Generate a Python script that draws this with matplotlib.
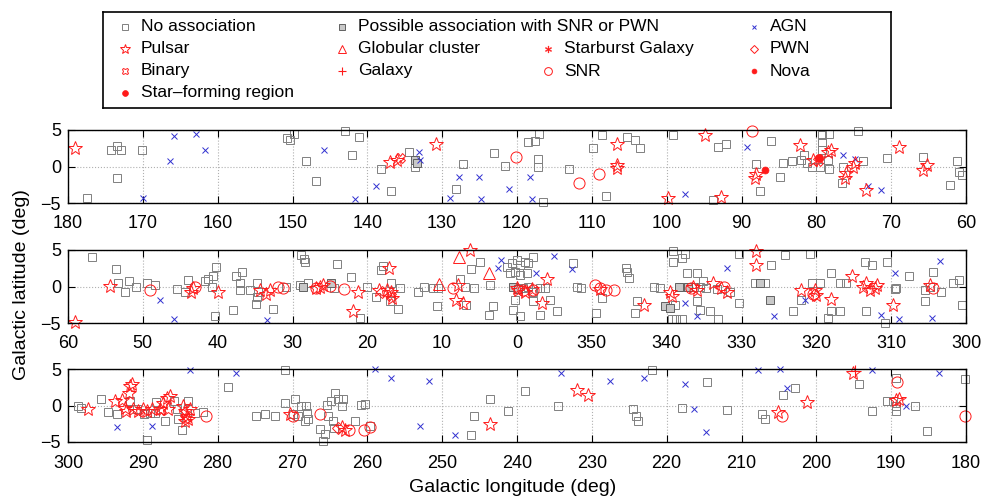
import matplotlib
matplotlib.use("Agg")
import matplotlib.pyplot as plt
from matplotlib.ticker import FuncFormatter, MultipleLocator
import numpy as np

plt.rcParams['font.family'] = ['Liberation Sans', 'DejaVu Sans']

# source positions, galactic (lon, lat) in degrees
no_assoc = [
    (174.2, 2.3), (173.5, 2.8), (172.9, 2.3), (170.1, 2.2), (173.5, -1.6), (177.5, -4.3),
    (150.7, 3.9), (150.4, 3.6), (149.8, 4.5), (148.2, 0.8), (146.8, -2.0), (143.0, 4.9),
    (141.1, 4.1), (142.1, 1.6), (138.2, -0.3), (136.8, -3.4), (134.4, 2.0), (133.6, -0.1),
    (128.2, -3.1), (127.2, 0.3), (123.1, 1.8), (121.6, 0.1), (118.5, 3.4), (117.6, 3.5),
    (117.0, 4.5), (117.2, 1.0), (117.2, 0.0), (116.5, -4.9), (113.1, -0.4), (109.9, 2.6),
    (108.6, 4.3), (108.1, -4.0), (105.3, 4.0), (104.2, 3.6), (103.6, 2.6), (99.1, 4.3),
    (93.1, 2.7), (92.1, 3.1), (93.8, -4.6), (88.0, 0.4), (87.5, -3.4), (86.0, 3.5),
    (84.9, -1.4), (84.5, 0.5), (83.3, 0.8), (82.0, 0.9), (79.3, 4.3), (78.3, 4.5),
    (79.2, 3.4), (81.7, 1.6), (81.3, 0.5), (80.6, 0.0), (79.5, 0.0), (79.3, 2.3),
    (78.4, 0.9), (78.3, -0.4), (76.6, -2.3), (74.4, 4.9), (76.4, 0.0), (73.7, 0.7),
    (70.6, 1.1), (65.7, 1.3), (62.2, -2.6), (61.2, 0.7), (61.0, -0.8), (60.6, -1.1),
    (56.8, 4.1), (53.6, 2.4), (53.3, 0.5), (52.4, -0.8), (51.9, 0.7), (50.9, -0.1),
    (49.5, 0.5), (48.4, 0.2), (45.5, -0.3), (44.4, -0.7), (44.0, 0.9), (41.7, 0.7),
    (41.3, 1.0), (40.6, 1.5), (40.2, 2.7), (40.4, -4.0), (40.8, 0.0), (37.5, 1.5),
    (36.7, 2.0), (37.9, -3.2), (37.0, -0.5), (37.0, 0.5), (35.7, -0.5), (34.8, 0.5),
    (34.6, -0.8), (34.9, -2.4), (34.8, -1.4), (32.6, -3.1), (30.9, -0.1), (29.0, 0.2),
    (27.9, 0.5), (28.8, 4.3), (28.5, 3.7), (28.3, 3.4), (24.1, 3.1), (24.5, -0.2),
    (21.0, -4.3), (22.2, 1.3), (20.1, 0.0), (18.8, -1.4), (18.2, 2.3), (17.9, 2.8),
    (16.9, 0.5), (17.0, -2.0), (15.9, -3.1), (15.6, -0.2), (13.2, -0.7), (12.4, -0.1),
    (11.2, -0.2), (10.5, -0.2), (10.7, -2.7), (7.6, 1.0), (7.0, 0.0), (5.7, -0.2),
    (6.8, -2.5), (6.2, 2.4), (5.0, 3.3), (3.6, 0.2), (3.2, -2.7), (3.8, -3.9),
    (1.4, 2.7), (0.7, 3.2), (0.0, 3.6), (359.6, 3.0), (358.9, 3.4), (358.5, 3.2),
    (357.8, 4.1), (0.9, 1.8), (0.3, 2.0), (359.6, 1.6), (358.7, 1.8), (359.2, -0.2),
    (358.5, 0.0), (357.8, -0.7), (356.9, -0.2), (356.3, -0.2), (0.3, -1.8), (0.5, -3.2),
    (359.6, -4.1), (357.8, -2.0), (356.9, -3.9), (355.6, -1.8), (354.7, -3.4), (352.5, 3.2),
    (352.0, -0.1), (351.4, -0.2), (348.6, -1.6), (349.4, -3.6), (345.4, 2.5), (345.3, 2.0),
    (345.1, 1.1), (344.0, -2.0), (344.2, -3.6), (341.7, 0.0), (340.9, -0.2), (338.9, -2.5),
    (339.3, -4.5), (338.7, -4.5), (338.0, -4.5), (339.1, 4.8), (339.1, 3.4), (338.0, 3.9),
    (337.6, 4.5), (337.8, 0.0), (336.4, 0.0), (335.5, 0.0), (337.3, 1.8), (336.0, 1.8),
    (336.0, -2.0), (335.5, -3.2), (334.2, -3.4), (333.1, -4.5), (335.1, 0.7), (334.7, -0.2),
    (333.3, -0.4), (331.5, -0.7), (330.4, -2.3), (330.4, 4.5), (326.0, 3.0), (328.2, 0.5),
    (326.9, 0.5), (324.2, 4.3), (323.1, -3.3), (320.9, 4.5), (322.0, -1.8), (320.6, 0.5),
    (319.5, 0.5), (318.0, 1.8), (316.8, 0.5), (316.0, 0.5), (318.0, -3.3), (316.8, -3.3),
    (318.4, -4.3), (313.5, 3.4), (312.6, 3.0), (310.6, 3.4), (313.3, -3.4), (310.8, -5.0),
    (309.5, -0.4), (309.3, -0.2), (307.6, 1.5), (305.5, -0.5), (304.8, 0.0), (304.4, 2.0),
    (305.5, -2.0), (303.3, -0.7), (301.7, 0.5), (301.0, 0.9), (300.6, -2.5),
    (298.6, -0.1), (298.2, -0.3), (295.6, 0.9), (294.6, -0.9), (293.4, -1.1), (291.7, 0.6),
    (290.8, -0.5), (289.9, -1.1), (289.0, -1.0), (288.2, 0.5), (288.4, -1.0), (289.4, -4.7),
    (287.0, -2.1), (285.9, 0.6), (285.3, -1.9), (285.5, -0.5), (284.8, -3.3), (283.9, 0.6),
    (283.0, -1.0), (282.0, -0.9), (278.6, 2.5), (274.9, -1.5), (273.7, -1.2), (272.3, -1.5),
    (271.0, 4.8), (271.0, 0.3), (269.7, 0.9), (268.8, -0.1), (268.2, -0.1), (268.1, -1.0),
    (267.9, -1.9), (268.3, -2.1), (269.2, -1.5), (269.9, -1.2), (266.3, -3.2), (265.7, -3.9),
    (265.9, -4.9), (265.2, -1.5), (265.4, 0.1), (264.8, 0.6), (264.3, 1.7), (263.9, 0.9),
    (263.2, 0.9), (264.6, -2.1), (264.5, -3.1), (263.4, -0.1), (261.6, -2.1), (260.8, 0.1),
    (260.3, 0.2), (259.6, -2.8), (245.8, -1.5), (246.1, -4.0), (243.6, 0.9), (241.2, -0.8),
    (238.9, 2.0), (234.5, -0.1), (224.5, -0.5), (224.1, -1.4), (223.8, -2.1), (221.9, 4.9),
    (217.9, -0.4), (214.6, 3.2), (211.9, -0.6), (207.3, -1.2), (206.9, -1.9), (204.5, 1.4),
    (202.8, 2.4), (194.3, 2.9), (192.6, -0.8), (190.6, 0.6), (189.7, 0.6), (189.3, -0.1),
    (189.3, -0.8), (189.3, 3.8), (186.8, 0.0), (185.2, -3.5), (180.1, 3.6),
]

possible_snr_pwn = [
    (133.6, 0.9), (133.3, 0.5), (28.6, -0.1), (24.8, 0.5), (0.5, 0.0), (359.8, -0.4),
    (338.4, 0.0), (337.1, 0.0), (327.5, 0.5), (326.2, -1.8), (340.2, -2.7), (339.6, -3.0),
]

pulsar = [
    (179.1, 2.6), (137.0, 0.6), (136.0, 0.9), (130.8, 3.1), (106.7, 3.1), (106.7, 0.2),
    (106.7, -0.2), (99.8, -4.3), (94.9, 4.3), (92.7, -4.2), (88.2, -1.6), (88.0, -1.0),
    (82.2, 3.0), (80.4, 0.9), (78.4, 2.0), (78.1, 2.3), (76.2, -1.6), (76.0, -0.9),
    (75.05, 0.0), (74.8, 0.5), (73.3, -3.2), (68.9, 2.7), (65.7, -0.5), (65.2, 0.2),
    (59.1, -4.8), (54.4, 0.1), (43.5, -0.7), (43.3, -0.2), (39.9, -0.8), (34.3, -0.5),
    (33.0, -0.5), (33.5, -1.0), (26.8, -0.2), (26.3, 0.0), (25.9, 0.2), (21.9, -3.4),
    (21.3, -0.8), (18.5, -0.5), (17.1, 2.5), (17.4, -0.5), (16.9, -0.8), (16.7, -1.6),
    (7.9, 0.2), (8.1, -1.8), (7.2, -2.3), (6.3, 5.0), (0.05, -0.2), (359.8, -0.5),
    (358.9, -0.7), (358.0, -0.4), (356.0, 1.0), (356.7, -2.2), (348.9, -0.4), (343.0, -2.6),
    (339.6, -0.7), (339.3, -1.3), (336.5, 0.0), (336.0, -0.5), (333.8, 0.5), (332.7, -0.2),
    (332.0, -0.7), (328.1, 4.8), (328.0, 3.0), (322.0, -0.5), (320.2, -0.5), (320.0, -1.1),
    (318.0, -1.7), (315.3, 1.5), (313.7, 0.0), (313.3, 0.5), (312.8, -0.5), (312.2, -0.2),
    (311.9, 0.2), (309.7, -2.5), (304.8, 0.2), (297.3, -0.5), (293.7, 0.6), (292.8, 0.8),
    (291.7, 2.7), (291.9, 1.7), (291.5, 3.0), (292.4, -0.3), (292.2, -0.8), (291.3, -0.5),
    (290.6, -0.8), (290.0, -0.5), (289.5, -0.8), (288.8, -0.5), (287.7, -0.5), (286.8, 1.0),
    (286.4, 1.3), (287.3, 0.4), (286.6, -0.5), (284.6, -0.1), (284.4, -0.8), (284.1, -1.5),
    (283.9, -1.9), (283.7, -0.5), (284.4, -2.1), (270.3, -1.1), (263.4, -3.0), (263.0, -3.3),
    (243.6, -2.6), (232.0, 2.1), (230.5, 1.5), (205.1, -0.9), (201.2, 0.5), (195.1, 4.4),
    (189.3, 0.8), (188.9, 0.9),
]

snr = [
    (120.2, 1.3), (111.7, -2.2), (109.0, -1.0), (88.6, 4.8), (49.0, -0.5), (43.0, -0.1),
    (31.9, 0.0), (31.3, -0.2), (26.8, -0.2), (25.0, 0.1), (23.1, -0.4), (8.6, -0.2),
    (359.2, -0.5), (357.8, -0.5), (349.6, 0.2), (348.9, -0.2), (348.1, -0.5), (347.1, -0.5),
    (336.7, -0.2), (332.4, 0.0), (320.4, -1.0), (304.4, -0.2), (281.5, -1.5), (269.9, -1.5),
    (266.3, -1.2), (262.5, -3.4), (260.4, -3.3), (259.7, -3.0), (204.6, -1.4), (189.2, 3.2),
    (180.1, -1.5),
]

agn = [
    (170.0, -4.3), (165.9, 4.2), (162.9, 4.5), (161.7, 2.3), (166.4, 0.8), (145.8, 2.3),
    (141.6, -4.5), (138.9, -2.7), (133.1, 2.0), (132.9, 0.9), (127.8, -1.4), (125.1, -1.4),
    (129.0, -4.3), (124.8, -4.5), (121.1, -3.1), (118.3, -1.4), (118.0, -4.5), (97.55, -3.7),
    (89.2, 2.7), (76.5, 1.6), (74.8, 1.0), (73.05, -2.7), (71.4, -3.2), (47.7, -1.8),
    (45.8, -4.5), (33.4, -4.6), (2.6, 2.5), (2.1, 3.6), (357.5, 1.9), (355.0, 4.2),
    (352.7, 2.4), (337.6, -2.2), (336.0, -4.1), (332.0, 2.6), (325.7, -4.0), (321.5, -1.9),
    (309.5, 1.8), (311.3, -3.9), (309.0, -4.5), (303.5, 3.5), (304.6, -4.3), (293.4, -3.0),
    (288.8, -2.8), (283.7, 4.8), (277.5, 4.5), (259.0, 5.0), (256.8, 3.8), (251.8, 3.3),
    (253.0, -2.8), (248.3, -4.1), (234.1, 4.5), (227.6, 3.3), (223.0, 3.7), (217.5, 2.9),
    (216.4, -0.5), (214.8, -3.6), (207.8, 4.8), (204.9, 5.0), (203.9, 2.4), (192.6, 4.9),
    (188.0, 0.0), (183.6, 4.5),
]

globular = [(10.4, 0.4), (7.7, 4.0), (3.8, 1.8)]
binary = [(135.6, 1.1), (79.8, 0.7), (16.9, -1.3), (287.6, -0.6), (284.3, -1.7)]
galaxy = [(194.8, 4.7)]
starburst = []
pwn = [(263.9, -3.1), (18.0, -0.7), (320.3, -1.2)]
nova = [(86.9, -0.5)]
star_forming = [(79.6, 1.1)]

# longitude range of each strip (left, right)
strips = [(180, 60), (60, -60), (300, 180)]

GREY = '#808080'
RED = '#ff1a1a'
BLUE = '#3030d0'

# label, data, plot style
classes = [
    ('No association', no_assoc, dict(marker='s', ms=6, mfc='none', mec=GREY, mew=0.7)),
    ('Possible association with SNR or PWN', possible_snr_pwn,
     dict(marker='s', ms=6, mfc='#c8c8c8', mec='#606060', mew=0.7)),
    ('AGN', agn, dict(marker='x', ms=4.5, mec=BLUE, mew=0.7)),
    ('Pulsar', pulsar, dict(marker='*', ms=10, mfc='none', mec=RED, mew=0.7)),
    ('Globular cluster', globular, dict(marker='^', ms=8, mfc='none', mec=RED, mew=0.7)),
    ('Starburst Galaxy', starburst, dict(marker='$\\ast$', ms=7, mfc=RED, mec=RED, mew=0.3)),
    ('PWN', pwn, dict(marker='D', ms=6, mfc='none', mec=RED, mew=0.7)),
    ('Binary', binary, dict(marker='X', ms=7, mfc='none', mec=RED, mew=0.7)),
    ('Galaxy', galaxy, dict(marker='+', ms=8, mec=RED, mew=0.8)),
    ('SNR', snr, dict(marker='o', ms=8, mfc='none', mec=RED, mew=0.7)),
    ('Nova', nova, dict(marker='o', ms=5, mfc=RED, mec=RED, mew=0.5)),
    ('Star-forming region', star_forming, dict(marker='o', ms=6, mfc=RED, mec=RED, mew=0.5)),
]

fig = plt.figure(figsize=(9.84, 4.97), dpi=100)

W, H = 984.0, 497.0
ax_left, ax_right = 68, 966
strip_px = [(130, 203), (250, 323), (369, 442)]

axes = []
for k, ((lo, hi), (top, bot)) in enumerate(zip(strips, strip_px)):
    ax = fig.add_axes([ax_left / W, 1 - bot / H, (ax_right - ax_left) / W, (bot - top) / H])
    for label, data, style in classes:
        if not data:
            continue
        arr = np.array(data, dtype=float)
        lon = arr[:, 0].copy()
        if k == 1:
            lon = np.where(lon > 180, lon - 360, lon)
        keep = (lon <= max(lo, hi)) & (lon >= min(lo, hi))
        # markers are not clipped at the frame, only points outside the strip are dropped
        ax.plot(lon[keep], arr[keep, 1], linestyle='none', clip_on=False, **style)
    ax.set_xlim(lo, hi)
    ax.set_ylim(-5, 5)
    ax.xaxis.set_major_locator(MultipleLocator(10))
    ax.set_yticks([-5, 0, 5])
    ax.xaxis.set_major_formatter(FuncFormatter(lambda v, p: f"{int(round(v)) % 360:d}"))
    ax.tick_params(direction='in', top=True, right=True, length=5, width=0.8,
                   labelsize=13)
    ax.tick_params(axis='x', pad=9)
    ax.tick_params(axis='y', pad=5)
    ax.grid(True, linestyle=':', color='#b0b0b0', linewidth=0.8)
    for s in ax.spines.values():
        s.set_linewidth(1.0)
    axes.append(ax)

fig.text(22 / W, 1 - 285 / H, 'Galactic latitude (deg)', rotation=90,
         ha='center', va='center', fontsize=14)
fig.text(513 / W, 1 - 488 / H, 'Galactic longitude (deg)', ha='center', va='center',
         fontsize=14)

# legend box, laid out in pixel units
lx0, lx1, ly0, ly1 = 103, 891, 12, 108
leg = fig.add_axes([lx0 / W, 1 - ly1 / H, (lx1 - lx0) / W, (ly1 - ly0) / H])
leg.set_xlim(lx0, lx1)
leg.set_ylim(ly1, ly0)
leg.set_xticks([])
leg.set_yticks([])
for s in leg.spines.values():
    s.set_linewidth(1.2)

col_x = [125, 342, 548, 754]
row_y = [27, 49, 71, 93]
slots = {
    'No association': (0, 0), 'Possible association with SNR or PWN': (1, 0), 'AGN': (3, 0),
    'Pulsar': (0, 1), 'Globular cluster': (1, 1), 'Starburst Galaxy': (2, 1), 'PWN': (3, 1),
    'Binary': (0, 2), 'Galaxy': (1, 2), 'SNR': (2, 2), 'Nova': (3, 2),
    'Star-forming region': (0, 3),
}
for label, data, style in classes:
    c, r = slots[label]
    st = dict(style)
    st['ms'] = st['ms'] * 0.7
    leg.plot([col_x[c]], [row_y[r]], linestyle='none', **st)
    leg.text(col_x[c] + 16, row_y[r], label.replace('-', '\u2013'), ha='left', va='center',
             fontsize=12.5)

fig.savefig('out.png', dpi=100)
